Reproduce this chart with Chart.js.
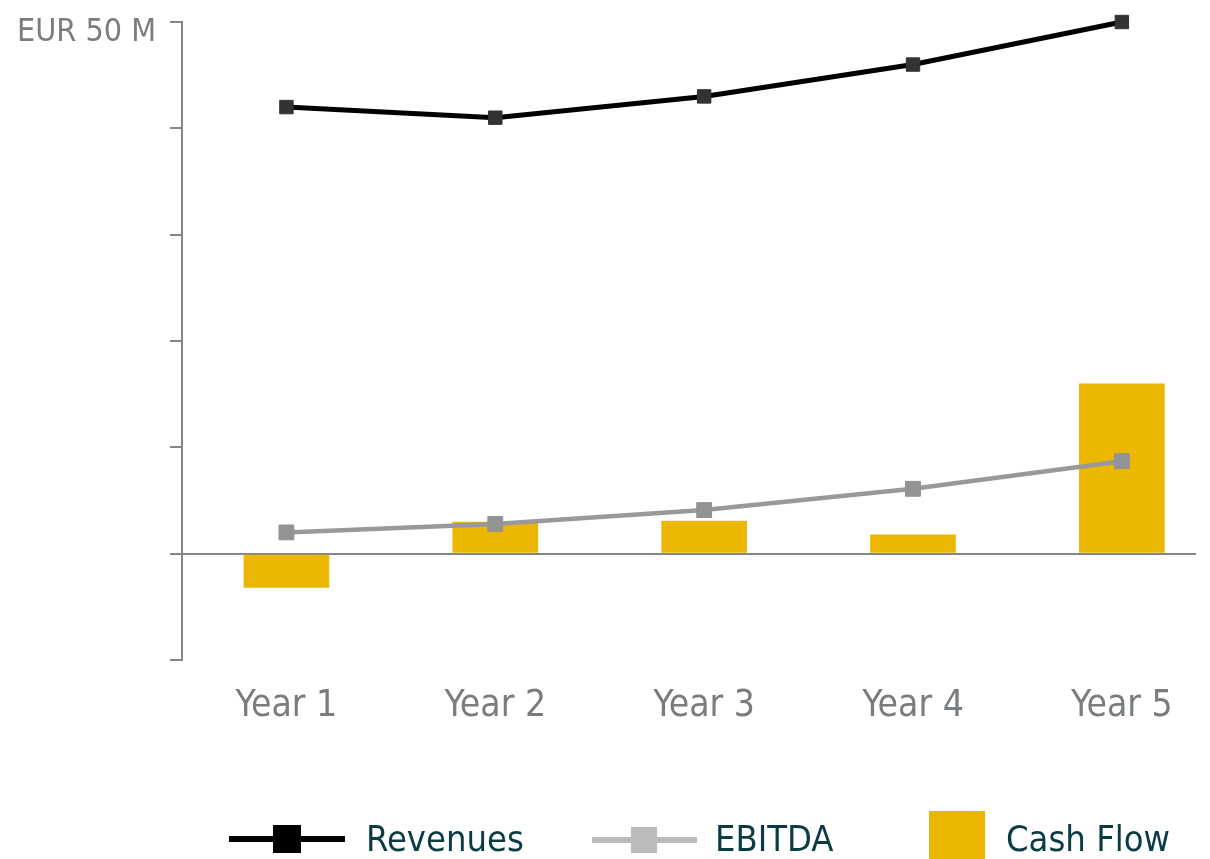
<!DOCTYPE html>
<html>
<head>
<meta charset="utf-8">
<title>Revenues, EBITDA and Cash Flow</title>
<script src="https://cdn.jsdelivr.net/npm/chart.js@4.4.0/dist/chart.umd.min.js"></script>
<style>
  html, body { margin: 0; padding: 0; background: #fff; }
  #wrap { position: relative; width: 1210px; height: 859px; overflow: hidden; }
  #chart { position: absolute; left: 0; top: 0; }
  .lg { position: absolute; font-family: "DejaVu Sans Condensed", "DejaVu Sans", sans-serif;
        font-size: 36px; line-height: 36px; color: #0b3c44; white-space: nowrap; }
  .sym { position: absolute; }
</style>
</head>
<body>
<div id="wrap">
  <canvas id="chart" width="1210" height="859"></canvas>
  <div id="legend"></div>
</div>
<script>
// data (EUR millions)
const years = ["Year 1", "Year 2", "Year 3", "Year 4", "Year 5"];
const revenues = [42, 41, 43, 46, 50];
const ebitda = [2, 2.8, 4.1, 6.1, 8.7];
const cashFlow = [-3.2, 3, 3.1, 1.8, 16];
const yTicks = [-10, 0, 10, 20, 30, 40, 50];
const yTopLabel = "EUR 50 M";

const FONT = "'DejaVu Sans Condensed', 'DejaVu Sans', sans-serif";
const AXIS = "#868686";

const toPoints = (arr) => arr.map((v, i) => ({ x: i, y: v }));

const chart = new Chart(document.getElementById("chart"), {
  type: "bar",
  data: {
    datasets: [
      {
        type: "line",
        label: "Revenues",
        data: toPoints(revenues),
        borderColor: "#000",
        borderWidth: 5,
        pointStyle: "rect",
        pointRadius: 9.5,
        pointBackgroundColor: "#333",
        pointBorderColor: "#333",
        pointBorderWidth: 1,
        tension: 0,
        clip: false,
        order: 1,
      },
      {
        type: "line",
        label: "EBITDA",
        data: toPoints(ebitda),
        borderColor: "#999",
        borderWidth: 4.5,
        pointStyle: "rect",
        pointRadius: 10.5,
        pointBackgroundColor: "#939393",
        pointBorderColor: "#939393",
        pointBorderWidth: 1,
        tension: 0,
        clip: false,
        order: 2,
      },
      {
        label: "Cash Flow",
        data: toPoints(cashFlow),
        backgroundColor: "#ebb700",
        barPercentage: 1,
        categoryPercentage: 0.41,
        order: 3,
      },
    ],
  },
  options: {
    responsive: false,
    animation: false,
    layout: { padding: { top: 22, right: 14, left: 0, bottom: 0 } },
    plugins: { legend: { display: false }, tooltip: { enabled: false } },
    scales: {
      x: {
        type: "linear",
        min: -0.5,
        max: 4.355,
        offset: false,
        grid: { display: false },
        border: { display: false },
        afterBuildTicks: (s) => { s.ticks = years.map((_, i) => ({ value: i })); },
        afterFit: (s) => { s.height = 199; s.paddingLeft = 0; s.paddingRight = 0; },
        ticks: {
          padding: 16,
          color: "#7a7d80",
          font: { family: FONT, size: 37 },
          callback: (v) => years[v],
          maxRotation: 0,
        },
      },
      y: {
        min: -10,
        max: 50,
        afterBuildTicks: (s) => { s.ticks = yTicks.map((v) => ({ value: v })); },
        afterFit: (s) => { s.width = 182; s.paddingTop = 0; s.paddingBottom = 0; },
        border: { display: true, color: AXIS, width: 2 },
        grid: {
          drawTicks: true,
          tickLength: 12,
          tickColor: AXIS,
          tickWidth: 2,
          lineWidth: 2,
          color: (c) => (c.tick && c.tick.value === 0 ? AXIS : "rgba(0,0,0,0)"),
        },
        ticks: {
          padding: 14,
          labelOffset: 11,
          color: "#7a7d80",
          font: { family: FONT, size: 32 },
          callback: (v) => (v === 50 ? yTopLabel : ""),
        },
      },
    },
  },
});

// custom legend under the chart
const legend = document.getElementById("legend");
function add(html) { legend.insertAdjacentHTML("beforeend", html); }
const ds = chart.data.datasets;
add('<div class="sym" style="left:229px;top:836px;width:116px;height:6px;background:#000"></div>');
add('<div class="sym" style="left:273px;top:825px;width:28px;height:28px;background:#000"></div>');
add('<div class="lg" style="left:366px;top:821px">' + ds[0].label + '</div>');
add('<div class="sym" style="left:592px;top:837px;width:105px;height:6px;background:#bbb"></div>');
add('<div class="sym" style="left:631px;top:827px;width:26px;height:26px;background:#bbb"></div>');
add('<div class="lg" style="left:715px;top:821px">' + ds[1].label + '</div>');
add('<div class="sym" style="left:929px;top:811px;width:56px;height:48px;background:#ebb700"></div>');
add('<div class="lg" style="left:1006px;top:821px">' + ds[2].label + '</div>');
</script>
</body>
</html>
